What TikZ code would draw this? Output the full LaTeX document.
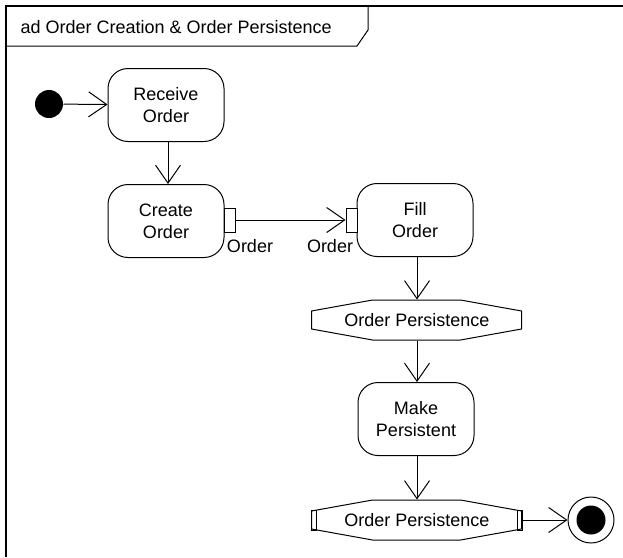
\documentclass[tikz,border=0pt]{standalone}
\usepackage{fontspec}
\setmainfont{Liberation Sans}
\usetikzlibrary{arrows.meta, calc}

% object node outline (octagon round a node of 210 x 40)
\newcommand{\octa}[1]{\draw (#1.west) ++(0,-9) -- ++(61,-11) -- ++(88,0) -- ++(61,11) -- ++(0,18) -- ++(-61,11) -- ++(-88,0) -- ++(-61,-11) -- cycle;}

\begin{document}
\begin{tikzpicture}[x=1pt, y=-1pt, line width=1pt,
	every node/.style={font=\fontsize{18}{22}\selectfont, inner sep=0pt},
	action/.style={draw, rounded corners=20pt, minimum width=116pt, minimum height=73pt, align=center},
	pin/.style={draw, fill=white, minimum width=11pt, minimum height=24pt},
	objnode/.style={minimum width=210pt, minimum height=40pt},
	arrow/.style={-{Straight Barb[length=18pt, width=25pt]}}
	]
	\useasboundingbox (0,0) rectangle (623,557);
	
	% Frame
	\draw[line width=2pt] (623,6) -- (6,6) -- (6,557);
	\draw (6,46) -- (357,46) -- (368,30) -- (368,6);
	\node[anchor=west] (title) at (20,27) {ad Order Creation \& Order Persistence};
	
	% Nodes
	\node[circle, fill, minimum size=28pt] (init) at (49,104) {};
	\node[action] (recv) at (166,105) {Receive\\Order};
	\node[action] (create) at (166,221) {Create\\Order};
	\node[pin] (createpin) at (229.5,220) {};
	\node[action] (fill) at (415,220) {Fill\\Order};
	\node[pin] (fillpin) at (351.5,220) {};
	\node (createlbl) at (250,246) {Order};
	\node (filllbl) at (330,246) {Order};
	
	\node[objnode] (op1) at (417,320) {Order Persistence};
	\octa{op1}
	\node[action] (persist) at (416,419) {Make\\Persistent};
	\node[objnode] (op2) at (417,520) {Order Persistence};
	\octa{op2}
	\draw (op2.west) ++(0,-10) rectangle ++(5,20);
	\draw (op2.east) ++(0,-10) rectangle ++(-5,20);
	
	\node[circle, draw, minimum size=46pt] (final) at (591,520) {};
	\node[circle, fill, minimum size=29pt] (finaldot) at (final) {};
	
	% Flows
	\draw[arrow] (init) -- (recv);
	\draw[arrow] ([xshift=2pt]recv.south) -- ([xshift=2pt]create.north);
	\draw[arrow] (createpin.east) -- (fillpin.west);
	\draw[arrow] (fill.south -| op1.north) -- (op1.north);
	\draw[arrow] (op1.south) -- (persist.north -| op1.south);
	\draw[arrow] (persist.south -| op2.north) -- (op2.north);
	\draw[arrow] (op2.east) -- (final);
\end{tikzpicture}
\end{document}
